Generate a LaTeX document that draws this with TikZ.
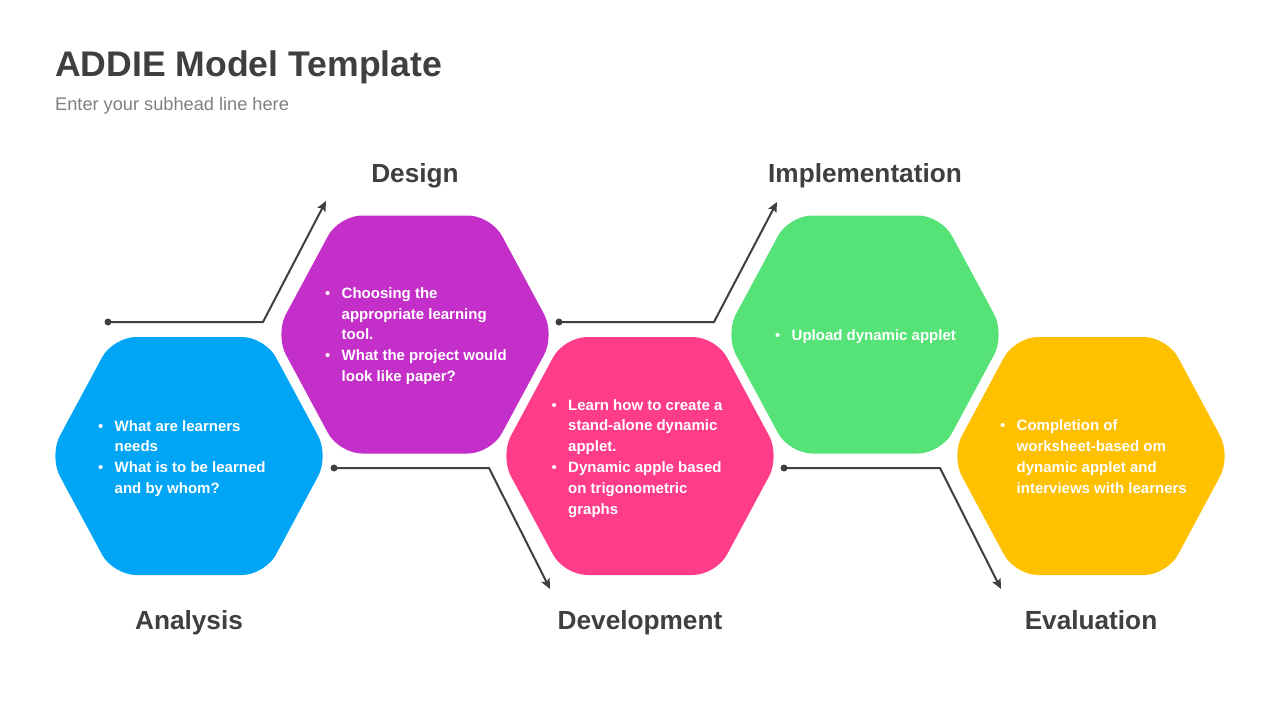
\documentclass[tikz,border=0pt]{standalone}
\usepackage{fontspec}
\setmainfont{Liberation Sans}
\usetikzlibrary{arrows.meta}
\definecolor{hexA}{HTML}{00A5F6}
\definecolor{hexD}{HTML}{C42FC9}
\definecolor{hexV}{HTML}{FF3C8A}
\definecolor{hexI}{HTML}{55E377}
\definecolor{hexE}{HTML}{FFC000}
\definecolor{ink}{HTML}{3F3F3F}
\definecolor{subink}{HTML}{808080}
\definecolor{lineink}{HTML}{3F3F3F}
\newlength\bw \setlength\bw{16.5pt}
\newcommand\bitem{\makebox[\bw][l]{\textmd{\textbullet}}}
\newcommand\bcont{\hspace*{\bw}}
\newcommand\hexcell[3]{%
  \coordinate (#1) at (#2);
  \fill[hexfill=#3] (#1) ++(0,-119) -- ++(76,0) -- ++(64,119) -- ++(-64,119)
     -- ++(-152,0) -- ++(-64,-119) -- ++(64,-119) -- cycle;}
\newcommand\bodytext[1]{\parbox[t]{240pt}{\raggedright #1}}
\begin{document}
\begin{tikzpicture}[x=1pt,y=-1pt,
  hexfill/.style={fill=#1, rounded corners=23pt},
  body/.style={anchor=base west, inner sep=0pt, text=white, font=\bfseries\fontsize{15}{20.8}\selectfont},
  phase/.style={anchor=base, inner sep=0pt, text=ink, font=\bfseries\fontsize{26.2}{30}\selectfont},
  conn/.style={draw=lineink, line width=2pt, -{Stealth[length=10pt,width=9pt,inset=2pt]}},
  dotnode/.style={circle, fill=lineink, inner sep=0pt, minimum size=7pt}]
\useasboundingbox (0,0) rectangle (1280,720);
\fill[white] (0,0) rectangle (1280,720);

% title
\node[anchor=base west, inner sep=0pt, text=ink, font=\bfseries\fontsize{35.6}{40}\selectfont] (title) at (55,76) {ADDIE Model Template};
\node[anchor=base west, inner sep=0pt, text=subink, font=\fontsize{18.2}{22}\selectfont] (sub) at (55,110) {Enter your subhead line here};

% hexagons
\hexcell{hA}{189,456}{hexA}
\hexcell{hD}{415,334.5}{hexD}
\hexcell{hV}{640,456}{hexV}
\hexcell{hI}{865,334.5}{hexI}
\hexcell{hE}{1091,456}{hexE}

% body texts
\node[body] (tA) at (98,431) {\bodytext{\bitem What are learners\\ \bcont needs\\ \bitem What is to be learned\\ \bcont and by whom?}};
\node[body] (tD) at (325,298.3) {\bodytext{\bitem Choosing the\\ \bcont appropriate learning\\ \bcont tool.\\ \bitem What the project would\\ \bcont look like paper?}};
\node[body] (tV) at (551.5,410) {\bodytext{\bitem Learn how to create a\\ \bcont stand-alone dynamic\\ \bcont applet.\\ \bitem Dynamic apple based\\ \bcont on trigonometric\\ \bcont graphs}};
\node[body] (tI) at (775,340.7) {\bodytext{\bitem Upload dynamic applet}};
\node[body] (tE) at (1000,430.7) {\bodytext{\bitem Completion of\\ \bcont worksheet-based om\\ \bcont dynamic applet and\\ \bcont interviews with learners}};

% phase labels
\node[phase] (lD) at (415,182.3) {Design};
\node[phase] (lI) at (865,182.3) {Implementation};
\node[phase] (lA) at (189,629.3) {Analysis};
\node[phase] (lV) at (640,629.3) {Development};
\node[phase] (lE) at (1091,629.3) {Evaluation};

% connectors
\node[dotnode] (d1) at (108,322) {};
\coordinate (b1) at (263,322);
\coordinate (e1) at (326,201);
\draw[conn] (d1.center) -- (b1) -- (e1);

\node[dotnode] (d2) at (334,468) {};
\coordinate (b2) at (489,468);
\coordinate (e2) at (550,589);
\draw[conn] (d2.center) -- (b2) -- (e2);

\node[dotnode] (d3) at (559,322) {};
\coordinate (b3) at (714,322);
\coordinate (e3) at (777,202);
\draw[conn] (d3.center) -- (b3) -- (e3);

\node[dotnode] (d4) at (784,468) {};
\coordinate (b4) at (940,468);
\coordinate (e4) at (1001,589);
\draw[conn] (d4.center) -- (b4) -- (e4);
\end{tikzpicture}
\end{document}
